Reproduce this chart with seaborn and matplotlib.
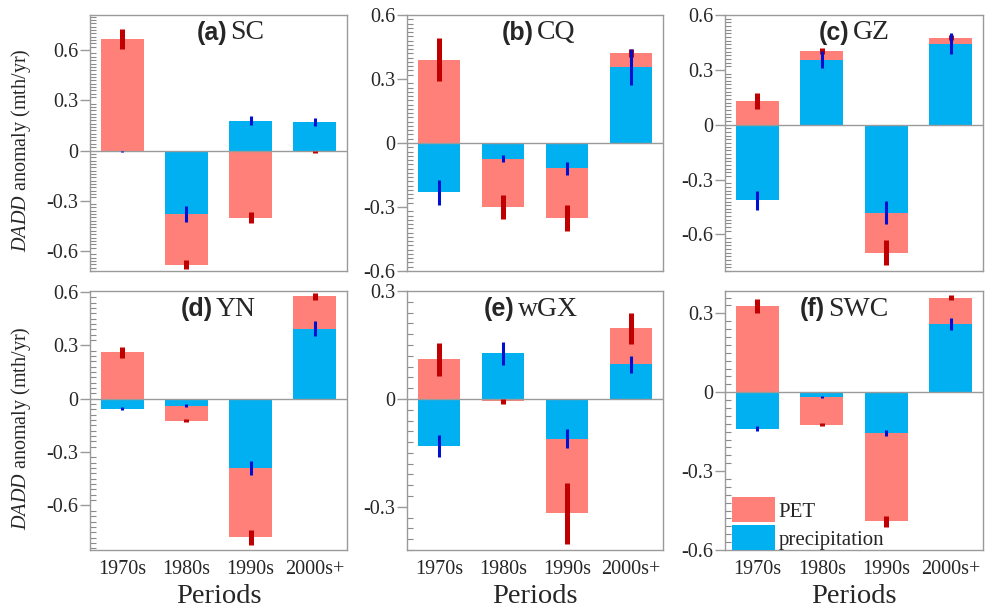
import numpy as np
import pandas as pd
import matplotlib
matplotlib.use("Agg")
import matplotlib.pyplot as plt
from matplotlib.ticker import FixedLocator, MultipleLocator, FuncFormatter
import seaborn as sns

# ---------------- data ----------------
periods = ["1970s", "1980s", "1990s", "2000s+"]
panel_tags = ["(a)", "(b)", "(c)", "(d)", "(e)", "(f)"]
regions = ["SC", "CQ", "GZ", "YN", "wGX", "SWC"]

pet_sc = [0.665, -0.683, -0.401, -0.008]
pet_err_sc = [0.060, 0.028, 0.035, 0.008]
pre_sc = [-0.005, -0.379, 0.178, 0.172]
pre_err_sc = [0.005, 0.047, 0.026, 0.025]

pet_cq = [0.391, -0.300, -0.352, 0.423]
pet_err_cq = [0.101, 0.058, 0.060, 0.018]
pre_cq = [-0.232, -0.074, -0.119, 0.357]
pre_err_cq = [0.057, 0.017, 0.030, 0.085]

pet_gz = [0.129, 0.402, -0.700, 0.475]
pet_err_gz = [0.044, 0.017, 0.067, 0.013]
pre_gz = [-0.413, 0.356, -0.482, 0.444]
pre_err_gz = [0.053, 0.047, 0.063, 0.060]

pet_yn = [0.261, -0.123, -0.779, 0.576]
pet_err_yn = [0.032, 0.009, 0.043, 0.020]
pre_yn = [-0.056, -0.039, -0.391, 0.393]
pre_err_yn = [0.010, 0.007, 0.040, 0.042]

pet_wgx = [0.110, -0.007, -0.318, 0.196]
pet_err_wgx = [0.045, 0.006, 0.085, 0.042]
pre_wgx = [-0.131, 0.127, -0.111, 0.096]
pre_err_wgx = [0.030, 0.032, 0.026, 0.023]

pet_swc = [0.327, -0.124, -0.491, 0.359]
pet_err_swc = [0.026, 0.006, 0.022, 0.010]
pre_swc = [-0.138, -0.018, -0.155, 0.259]
pre_err_swc = [0.008, 0.005, 0.011, 0.022]

pet_all = [pet_sc, pet_cq, pet_gz, pet_yn, pet_wgx, pet_swc]
pet_err_all = [pet_err_sc, pet_err_cq, pet_err_gz, pet_err_yn, pet_err_wgx, pet_err_swc]
pre_all = [pre_sc, pre_cq, pre_gz, pre_yn, pre_wgx, pre_swc]
pre_err_all = [pre_err_sc, pre_err_cq, pre_err_gz, pre_err_yn, pre_err_wgx, pre_err_swc]

ylims = [(-0.72, 0.81), (-0.6, 0.6), (-0.8, 0.6), (-0.85, 0.605), (-0.42, 0.3), (-0.6, 0.385)]
major_ticks = [[-0.6, -0.3, 0, 0.3, 0.6], [-0.6, -0.3, 0, 0.3, 0.6], [-0.6, -0.3, 0, 0.3, 0.6],
               [-0.6, -0.3, 0, 0.3, 0.6], [-0.3, 0, 0.3], [-0.6, -0.3, 0, 0.3]]
minor_steps = [0.02, 0.02, 0.02, 0.03, 0.03, 0.03]
title_gap = [0.539, 0.50, 0.49, 0.484, 0.426, 0.394]

# ---------------- style ----------------
sns.set_style("white")
plt.rcParams["font.family"] = ["Liberation Serif", "DejaVu Serif"]
plt.rcParams["mathtext.fontset"] = "custom"
plt.rcParams["mathtext.rm"] = "Liberation Serif"
plt.rcParams["mathtext.it"] = "Liberation Serif:italic"
plt.rcParams["axes.unicode_minus"] = False

PET_C = "#FF8078"
PRE_C = "#00B0F0"
PET_E = "#C00000"
PRE_E = "#0010D0"
GRAY = "#9A9A9A"

fig = plt.figure(figsize=(10.02, 6.12), dpi=100)
W, H = 1002, 612
cols = [(90, 257), (407, 256), (725, 258)]
rows = [(15, 271), (291, 550)]

def fmt(v, pos):
    if abs(v) < 1e-9:
        return "0"
    return f"{v:.1f}"

for i in range(6):
    r, c = divmod(i, 3)
    left, wid = cols[c]
    top, bot = rows[r]
    ax = fig.add_axes([left / W, 1 - bot / H, wid / W, (bot - top) / H])

    df = pd.DataFrame({"period": periods, "PET": pet_all[i], "precip": pre_all[i]})
    sns.barplot(data=df, x="period", y="PET", order=periods, color=PET_C, saturation=1,
                width=0.67, errorbar=None, linewidth=0, ax=ax, zorder=2)
    sns.barplot(data=df, x="period", y="precip", order=periods, color=PRE_C, saturation=1,
                width=0.67, errorbar=None, linewidth=0, ax=ax, zorder=3)
    ax.axhline(0, color=GRAY, lw=1.0, zorder=4)

    xpos = np.arange(len(periods))
    pv, pe = np.array(pet_all[i]), np.array(pet_err_all[i])
    qv, qe = np.array(pre_all[i]), np.array(pre_err_all[i])
    ax.vlines(xpos, pv - pe, pv + pe, color=PET_E, lw=3.6, zorder=5)
    ax.vlines(xpos, qv - qe, qv + qe, color=PRE_E, lw=2.2, zorder=6)

    ax.set_xlim(-0.5, 3.5)
    ax.set_ylim(*ylims[i])
    ax.yaxis.set_major_locator(FixedLocator(major_ticks[i]))
    ax.yaxis.set_minor_locator(MultipleLocator(minor_steps[i]))
    ax.yaxis.set_major_formatter(FuncFormatter(fmt))
    ax.tick_params(axis="y", which="major", direction="out", length=7, width=1,
                   color=GRAY, labelsize=14.5, pad=1.5, left=True)
    ax.tick_params(axis="y", which="minor", direction="in", length=4, width=0.8,
                   color="#8A8A8A", left=True)
    ax.tick_params(axis="x", which="both", length=0)
    for s in ax.spines.values():
        s.set_color(GRAY)
        s.set_linewidth(1.0)

    if r == 0:
        ax.set_xticklabels([])
        ax.set_xlabel("")
    else:
        ax.tick_params(axis="x", labelsize=14.5, pad=7)
        ax.set_xlabel("Periods", fontsize=20.5, labelpad=4)

    if c == 0:
        ax.set_ylabel(r"$\mathit{DADD}$ anomaly (mth/yr)", fontsize=14.5)
        ax.yaxis.set_label_coords(-0.222, 0.47)
    else:
        ax.set_ylabel("")

    g = title_gap[i]
    ax.text(g - 0.006, 0.93, panel_tags[i], transform=ax.transAxes, ha="right", va="center",
            fontfamily="Liberation Sans", fontweight="bold", fontsize=18, zorder=10)
    ax.text(g + 0.006, 0.93, regions[i], transform=ax.transAxes, ha="left", va="center",
            fontsize=20, zorder=10)

    if i == 5:
        ax.legend(handles=[ax.containers[0], ax.containers[1]], labels=["PET", "precipitation"],
                  loc="lower left", bbox_to_anchor=(0.027, 0.0), frameon=False, fontsize=15,
                  borderpad=0, borderaxespad=0, handlelength=2.05, handleheight=1.45,
                  labelspacing=0.15, handletextpad=0.2)

fig.savefig("out.png", dpi=100)
